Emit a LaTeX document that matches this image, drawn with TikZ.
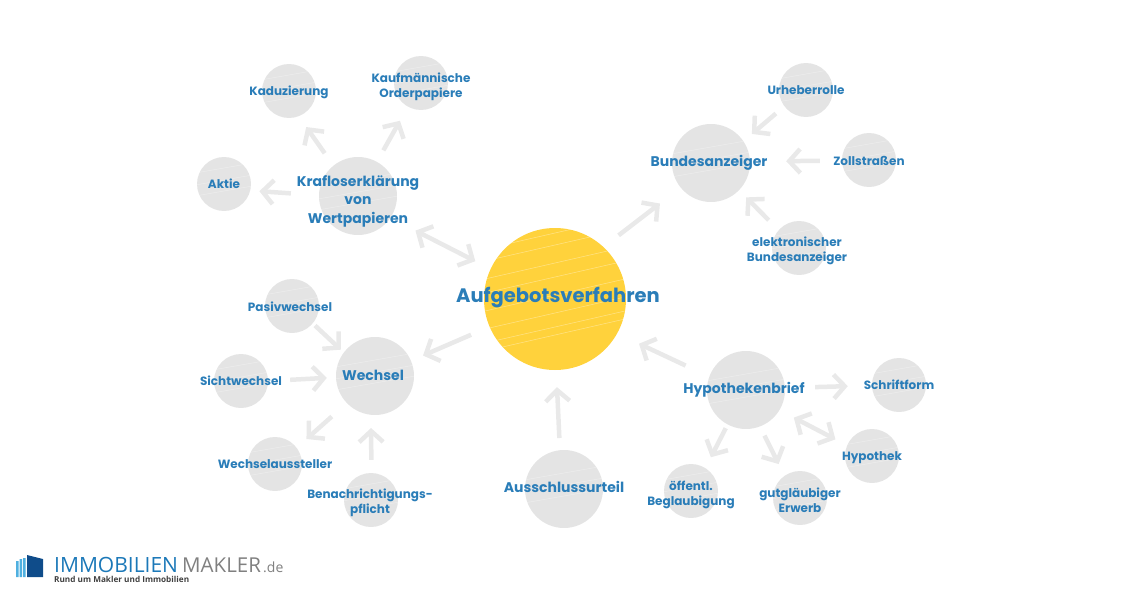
\documentclass[tikz,border=0pt]{standalone}
\usepackage{fontspec}
\setmainfont{Poppins}
\newfontfamily\logofont{Open Sans}
\newfontfamily\logolight{Open Sans Light}
\usetikzlibrary{arrows.meta}
\definecolor{bubblegray}{HTML}{E4E4E4}
\definecolor{hubyellow}{HTML}{FFD23C}
\definecolor{tagblue}{HTML}{2A7DB8}
\definecolor{linkgray}{HTML}{E9E9E9}
\definecolor{logoblue}{HTML}{1B78B8}
\definecolor{logonavy}{HTML}{0F4C8A}
\definecolor{logosky}{HTML}{4FB0E0}

\begin{document}
\begin{tikzpicture}
	  [x=1pt, y=1pt, node distance = 100pt,
	  %
	  every label/.style={text=tagblue, font=\bfseries\fontsize{12}{15}\selectfont, align=center, inner sep=0pt},
	  %
	  bubble/.style={circle, fill=bubblegray, minimum size=54pt, inner sep=0pt,
	    path picture={\foreach \y in {-14,-3,9} \draw [white, opacity=0.35, line width=0.5pt]
	      ([xshift=-40pt, yshift=\y pt]path picture bounding box.center) -- ([xshift=40pt, yshift=\y pt+14pt]path picture bounding box.center);}},
	  %
	  bigbubble/.style={bubble, minimum size=78pt},
	  %
	  hubbubble/.style={circle, fill=hubyellow, minimum size=142pt, inner sep=0pt,
	    path picture={\foreach \y in {-52,-44,-30,-12,6,20,38,50} \draw [white, opacity=0.4, line width=0.5pt]
	      ([xshift=-70pt, yshift=\y pt]path picture bounding box.center) -- ([xshift=70pt, yshift=\y pt+32pt]path picture bounding box.center);}},
	  %
	  biglabel/.style={font=\bfseries\fontsize{14}{18.5}\selectfont},
	  %
	  customline/.style={draw = linkgray, line width=4.5pt, arrows={-Straight Barb[length=11pt, width=24pt, line width=4.5pt]}},
	  %
	  customboth/.style={customline, arrows={Straight Barb[length=11pt, width=24pt, line width=4.5pt]-Straight Barb[length=11pt, width=24pt, line width=4.5pt]}}]

	    \useasboundingbox (0,0) rectangle (1130,-594);

	    \node [hubbubble, label={[xshift=3pt, yshift=1pt, font=\bfseries\fontsize{19.5}{22}\selectfont]center:Aufgebotsverfahren}] (hub) at (555,-299) {};

	    \node [bigbubble, below of=hub, xshift=-197pt, yshift=203pt, label={[biglabel, yshift=-5pt]center:Krafloserklärung\\von\\Wertpapieren}] (kraf) {};
	    \node [bubble, below of=kraf, xshift=-69pt, yshift=205pt, label={[yshift=-1pt]center:Kaduzierung}] (kadu) {};
	    \node [bubble, below of=kraf, xshift=63pt, yshift=213pt, label={[yshift=-4pt]center:Kaufmännische\\Orderpapiere}] (kauf) {};
	    \node [bubble, below of=kraf, xshift=-134pt, yshift=112pt, label={center:Aktie}] (aktie) {};

	    \node [bigbubble, below of=hub, xshift=156pt, yshift=236pt, label={[biglabel, xshift=-2pt]center:Bundesanzeiger}] (bund) {};
	    \node [bubble, below of=bund, xshift=95pt, yshift=173pt, label={center:Urheberrolle}] (urheber) {};
	    \node [bubble, below of=bund, xshift=158pt, yshift=103pt, label={[yshift=-1pt]center:Zollstraßen}] (zoll) {};
	    \node [bubble, below of=bund, xshift=88pt, yshift=15pt, label={[xshift=-2pt, yshift=-3pt]center:elektronischer\\Bundesanzeiger}] (elektr) {};

	    \node [bigbubble, below of=hub, xshift=-180pt, yshift=23pt, label={[biglabel, xshift=-2pt, yshift=1pt]center:Wechsel}] (wechsel) {};
	    \node [bubble, below of=wechsel, xshift=-83pt, yshift=170pt, label={[xshift=-2pt, yshift=-1pt]center:Pasivwechsel}] (pasiv) {};
	    \node [bubble, below of=wechsel, xshift=-134pt, yshift=95pt, label={center:Sichtwechsel}] (sicht) {};
	    \node [bubble, below of=wechsel, xshift=-100pt, yshift=12pt, label={center:Wechselaussteller}] (aussteller) {};
	    \node [bubble, below of=wechsel, xshift=-4pt, yshift=-24pt, label={[xshift=-1pt, yshift=-3pt]center:Benachrichtigungs-\\pflicht}] (benach) {};

	    \node [bigbubble, below of=hub, xshift=9pt, yshift=-90pt, label={[biglabel, yshift=2pt]center:Ausschlussurteil}] (urteil) {};

	    \node [bigbubble, below of=hub, xshift=191pt, yshift=9pt, label={[biglabel, xshift=-2pt]center:Hypothekenbrief}] (hypo) {};
	    \node [bubble, below of=hypo, xshift=153pt, yshift=105pt, label={center:Schriftform}] (schrift) {};
	    \node [bubble, below of=hypo, xshift=126pt, yshift=34pt, label={[yshift=-2pt]center:Hypothek}] (hypothek) {};
	    \node [bubble, below of=hypo, xshift=-55pt, yshift=-1pt, label={[yshift=-4pt]center:öffentl.\\Beglaubigung}] (oeff) {};
	    \node [bubble, below of=hypo, xshift=54pt, yshift=-8pt, label={[yshift=-2pt]center:gutgläubiger\\Erwerb}] (gutgl) {};

	    \draw [customline, shorten <=28pt, shorten >=9pt] (kraf.179) -- (aktie.346);
	    \draw [customline, shorten <=15pt, shorten >=13pt] (kraf.129) -- (kadu.291);
	    \draw [customline, shorten <=13pt, shorten >=16pt] (kraf.61) -- (kauf.241);
	    \draw [customboth, shorten <=28pt, shorten >=17pt] (kraf.326) -- (hub.155);

	    \draw [customline, shorten <=19pt, shorten >=26pt] (hub.47) -- (bund.219);
	    \draw [customline, shorten <=11pt, shorten >=11pt] (urheber.217) -- (bund.34);
	    \draw [customline, shorten <=22pt, shorten >=36pt] (zoll.181) -- (bund.2);
	    \draw [customline, shorten <=14pt, shorten >=10pt] (elektr.139) -- (bund.316);

	    \draw [customline, shorten <=20pt, shorten >=13pt] (hub.203) -- (wechsel.23);
	    \draw [customline, shorten <=3pt, shorten >=4pt] (pasiv.320) -- (wechsel.143);
	    \draw [customline, shorten <=22pt, shorten >=9pt] (sicht.0) -- (wechsel.182);
	    \draw [customline, shorten <=20pt, shorten >=13pt] (wechsel.224) -- (aussteller.37);
	    \draw [customline, shorten <=13pt, shorten >=13pt] (benach.89) -- (wechsel.264);

	    \draw [customline, shorten <=12pt, shorten >=17pt] (urteil.96) -- (hub.271);

	    \draw [customline, shorten <=26pt, shorten >=24pt] (hypo.160) -- (hub.331);
	    \draw [customline, shorten <=30pt, shorten >=24pt] (hypo.3) -- (schrift.181);
	    \draw [customboth, shorten <=16pt, shorten >=13pt] (hypo.329) -- (hypothek.157);
	    \draw [customline, shorten <=4pt, shorten >=12pt] (hypo.242) -- (oeff.58);
	    \draw [customline, shorten <=10pt, shorten >=13pt] (hypo.291) -- (gutgl.125);

% 	    logo
	    \fill [logosky] (16,-561) rectangle (18.5,-577) (19.5,-559) rectangle (22,-577) (23,-558) rectangle (25.5,-577);
	    \fill [logonavy] (27,-555) -- (43,-559) -- (43,-577) -- (27,-577) -- cycle;
	    \node [anchor=base west, inner sep=0pt, text=logoblue, font=\logofont\fontsize{21}{24}\selectfont] (logoa) at (54,-572) {IMMOBILIEN};
	    \node [anchor=base west, inner sep=0pt, text=gray, font=\logofont\fontsize{20.5}{24}\selectfont] (logob) at (182,-572) {MAKLER};
	    \node [anchor=base west, inner sep=0pt, text=gray, font=\logofont\fontsize{14}{14}\selectfont] (logoc) at (263,-572) {.de};
	    \node [anchor=base west, inner sep=0pt, text=black!75, font=\logofont\bfseries\fontsize{8.2}{10}\selectfont] (logod) at (54,-582.5) {Rund um Makler und Immobilien};
\end{tikzpicture}
\end{document}
